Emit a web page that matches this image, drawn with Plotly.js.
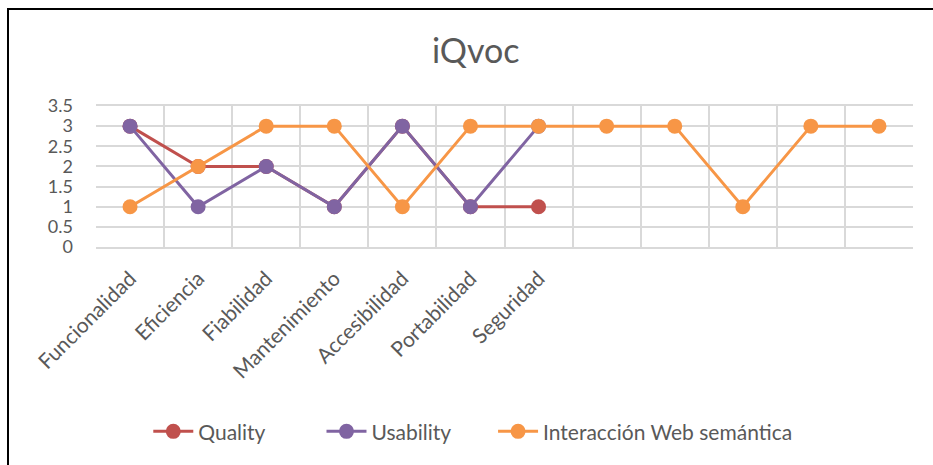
<!DOCTYPE html>
<html>
<head>
<meta charset="utf-8">
<script src="https://cdn.plot.ly/plotly-3.0.1.min.js"></script>
<style>
  body { margin: 0; background: #fff; }
  #chart { width: 933px; height: 465px; }
  #frame {
    position: absolute; left: 7px; top: 8px; width: 940px; height: 470px;
    border-left: 2px solid #000; border-top: 2px solid #000; pointer-events: none;
  }
</style>
</head>
<body>
<div id="chart"></div>
<div id="frame"></div>
<script>
// categories (12 slots, the last 5 have no label)
var categories = ['Funcionalidad', 'Eficiencia', 'Fiabilidad', 'Mantenimiento',
                  'Accesibilidad', 'Portabilidad', 'Seguridad', '', '', '', '', ''];

var quality     = [3, 2, 2, 1, 3, 1, 1];
var usability   = [3, 1, 2, 1, 3, 1, 3];
var interaccion = [1, 2, 3, 3, 1, 3, 3, 3, 3, 1, 3, 3];

var yTicks = [0, 0.5, 1, 1.5, 2, 2.5, 3, 3.5];

var slots = categories.map(function (c, i) { return i; });

function serie(name, values, colour, legendId) {
  return {
    x: slots.slice(0, values.length),
    y: values,
    name: name,
    legend: legendId,
    type: 'scatter',
    mode: 'lines+markers',
    line: { color: colour, width: 3 },
    marker: { color: colour, size: 15 },
    cliponaxis: false
  };
}

var data = [
  serie('Quality', quality, '#C0504D', 'legend'),
  serie('Usability', usability, '#8064A2', 'legend2'),
  serie('Interacción Web semántica', interaccion, '#F79646', 'legend3')
];

var font = 'Lato, "Open Sans", sans-serif';

// one legend box per series so the entries can be spread like the original
function legendAt(x) {
  return {
    orientation: 'h',
    x: x, xanchor: 'left',
    y: -1.31, yanchor: 'middle',
    font: { size: 21, color: '#595959' },
    bgcolor: 'rgba(0,0,0,0)',
    itemwidth: 40
  };
}

var layout = {
  width: 933,
  height: 465,
  margin: { l: 96, r: 20, t: 106, b: 218 },
  paper_bgcolor: '#fff',
  plot_bgcolor: '#fff',
  font: { family: font, color: '#595959' },
  title: {
    text: 'iQvoc',
    font: { size: 34, color: '#595959', family: font },
    x: 0.51, xref: 'container', xanchor: 'center',
    y: 0.89, yref: 'container', yanchor: 'middle'
  },
  showlegend: true,
  legend: legendAt(0.064),
  legend2: legendAt(0.276),
  legend3: legendAt(0.486),
  xaxis: {
    range: [-0.5, categories.length - 0.5],
    tickmode: 'array',
    tickvals: slots,
    ticktext: categories,
    tickangle: -45,
    tickfont: { size: 21, color: '#595959' },
    ticklabelstandoff: 9,
    showgrid: false,
    zeroline: false,
    ticks: '',
    showline: true,
    linecolor: '#d9d9d9',
    linewidth: 2,
    mirror: true,
    minor: { tick0: 0.5, dtick: 1, showgrid: true, gridcolor: '#d9d9d9', gridwidth: 2, ticks: '' },
    fixedrange: true
  },
  yaxis: {
    range: [0, 3.5],
    tickmode: 'array',
    tickvals: yTicks,
    ticktext: yTicks.map(String),
    tickfont: { size: 18, color: '#595959' },
    showgrid: true,
    gridcolor: '#d9d9d9',
    gridwidth: 2,
    zeroline: false,
    ticks: '',
    ticklabelstandoff: 22,
    fixedrange: true
  }
};

Plotly.newPlot('chart', data, layout, { displayModeBar: false, staticPlot: true });
</script>
</body>
</html>
